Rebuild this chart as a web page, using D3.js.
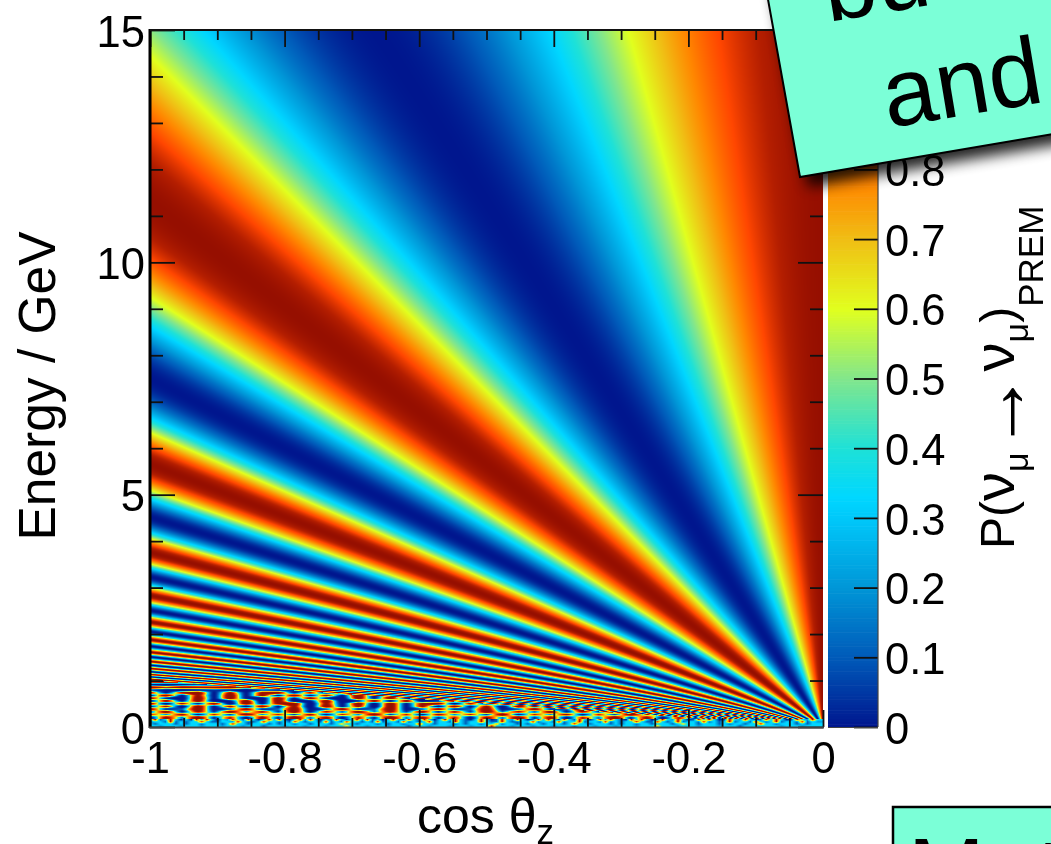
<!DOCTYPE html>
<html><head><meta charset="utf-8">
<script src="https://cdn.jsdelivr.net/npm/d3@7"></script>
<style>
html,body{margin:0;padding:0;background:#fff;overflow:hidden;width:1051px;height:844px}
#wrap{position:relative;width:1051px;height:844px;overflow:hidden}
canvas{position:absolute;left:0;top:0;filter:blur(.6px)}
svg{position:absolute;left:0;top:0}
text{font-family:"Liberation Sans",Arial,sans-serif;fill:#000}
.soft{filter:blur(.45px)}
</style></head><body><div id="wrap"><canvas id="heat" width="1051" height="844"></canvas><svg id="chart" width="1051" height="844"></svg></div>
<script>
// Tick positions
const cosMajor=[-1,-0.8,-0.6,-0.4,-0.2,0];
const cosMinor=[-0.95,-0.9,-0.85,-0.75,-0.7,-0.65,-0.55,-0.5,-0.45,-0.35,-0.3,-0.25,-0.15,-0.1,-0.05];
const energyMajor=[0,5,10,15];
const energyMinor=[1,2,3,4,6,7,8,9,11,12,13,14];
const barTicks=[0,0.1,0.2,0.3,0.4,0.5,0.6,0.7,0.8,0.9,1];
// Colour palette
const paletteStops=[0,0.1,0.2,0.3,0.33,0.4,0.5,0.6,0.7,0.78,0.87,0.95,1];
const paletteColors=["rgb(0,22,142)","rgb(0,90,185)","rgb(0,150,215)","rgb(0,200,250)","rgb(0,215,255)","rgb(30,225,215)","rgb(130,230,140)","rgb(225,255,30)","rgb(240,190,20)","rgb(255,135,0)","rgb(255,70,0)","rgb(180,30,0)","rgb(150,15,0)"];
// Energies along cosθ = -1 at which the probability bands peak/trough (bands fan out from the origin)
const bandEnergy=[Infinity,22.6,11.3,7.5,5.66,4.52,3.76,3.23,2.83,2.51,2.26,2.05,1.88,1.74,1.61,1.51,1.41,1.33,1.26,1.19,1.13,1.08,1.03,0.98,0.94];
const bandValue=[1,0,1,0,1,0,1,0,1,0,1,0,1,0,1,0,1,0,1,0,1,0,1,0,1];
// Unresolved pattern below the fan (tenths of P, estimated by eye), E from 1 down to 0.18
const moireRows=[
"898989988989898998898989988989898998898989",
"101212010212101201021210120102121012010212",
"979889798897988979889798897988979889798897",
"210121021201210212012102120121021201210212",
"818918189181891818918189181891818918189181",
"191819181918191819181918191819181918191819",
"910919109191091910919109191091910919109191",
"091901909019019090190190901901909019019090",
"908190918908190918908190918908190918908190",
"180918091809180918091809180918091809180918",
"913912913912913912913912913912913912913912",
"291829382918293829182938291829382918293829",
"738172937281739271837291738172937281739271",
"183927182938172938271839281739281728392718"];
// Fine speckle, E from 0.18 down to 0
const speckleRows=[
"3913930309293032941930293910392930319303929130393093193039293103930193293019393093193039293109393019329301939301932930193930193293",
"1331913133931133193113933131931331913193313191331913139133193133931193113391331913391331913133931193139133191313913319313913319132",
"3133313133133313933133313133133133313633133313133133933133313133133713313133133313933133313133133133313633133313133133933133313133",
"3323332333233323332333133323332333233363332333233313332333233323339333233323332333133323332333233363332333233323331333233323332333"];

const x=d3.scaleLinear().domain([-1,0]).range([150,823]);
const y=d3.scaleLinear().domain([0,15]).range([727,30]);
const barY=d3.scaleLinear().domain([0,1]).range([727,30]);
const color=d3.scaleLinear().domain(paletteStops).range(paletteColors).clamp(true);
const profile=d3.scaleLinear().domain(bandEnergy.map(e=>1/e)).range(bandValue).clamp(true)
  .interpolate((a,b)=>t=>a+(b-a)*d3.easeSinInOut(t));

function sample(rows,u,v){
  const fr=Math.min(rows.length-1.001,Math.max(0,v*rows.length-.5)),r0=Math.floor(fr),tr=fr-r0;
  const at=(row,uu)=>{const s=rows[row],f=Math.min(s.length-1.001,uu*s.length),i=Math.floor(f),t=f-i;
    return d3.interpolateNumber(+s[i]/9,+s[i+1]/9)(t);};
  return d3.interpolateNumber(at(r0,u),at(r0+1,u))(tr);
}
function valueAt(c,E){
  const ac=Math.abs(c);
  if(E<0.18) return sample(speckleRows,c+1,(0.18-E)/0.18);
  if(E>=ac) return profile(ac/E);
  return d3.easeCubicInOut(sample(moireRows,c+1,(1-E)/0.82));
}
const ctx=document.getElementById("heat").getContext("2d");
const img=ctx.createImageData(1051,844);
for(let py=30;py<727;py++)for(let px=150;px<823;px++){
  const rgb=d3.rgb(color(valueAt(x.invert(px+.5),y.invert(py+.5))));
  const k=(py*1051+px)*4;img.data[k]=rgb.r;img.data[k+1]=rgb.g;img.data[k+2]=rgb.b;img.data[k+3]=255;
}
ctx.putImageData(img,0,0);

const svg=d3.select("#chart");
const defs=svg.append("defs");
defs.append("filter").attr("id","shadow").attr("x","-20%").attr("y","-20%").attr("width","140%").attr("height","140%")
  .append("feGaussianBlur").attr("stdDeviation",7);

// colour bar
svg.append("g").selectAll("rect").data(d3.range(0,1,0.004)).join("rect")
  .attr("x",828).attr("width",50).attr("y",d=>barY(d+0.004)).attr("height",d=>barY(d)-barY(d+0.004)+.6)
  .attr("fill",d=>color(d+.002));

const fmt=d=>String(d);
const soft=svg.append("g").attr("class","soft");
function clean(g){g.select(".domain").remove();g.selectAll("line").attr("stroke","#111").attr("stroke-width",1.8);g.selectAll("text").attr("font-size",43.5).attr("fill","#000").attr("font-family",'"Liberation Sans",Arial,sans-serif');return g;}
// x axis
clean(soft.append("g").attr("transform",`translate(0,727)`).call(d3.axisBottom(x).tickValues(cosMajor).tickFormat(fmt).tickSizeInner(-17).tickSizeOuter(0).tickPadding(15)));
clean(soft.append("g").attr("transform",`translate(0,727)`).call(d3.axisBottom(x).tickValues(cosMinor).tickFormat("").tickSizeInner(-9).tickSizeOuter(0)));
clean(soft.append("g").attr("transform",`translate(0,30)`).call(d3.axisTop(x).tickValues(cosMajor).tickFormat("").tickSizeInner(-17).tickSizeOuter(0)));
clean(soft.append("g").attr("transform",`translate(0,30)`).call(d3.axisTop(x).tickValues(cosMinor).tickFormat("").tickSizeInner(-10).tickSizeOuter(0)));
// y axis
clean(soft.append("g").attr("transform",`translate(150,0)`).call(d3.axisLeft(y).tickValues(energyMajor).tickFormat(fmt).tickSizeInner(-25).tickSizeOuter(0).tickPadding(5)))
  .selectAll("text").attr("dy","0.37em");
clean(soft.append("g").attr("transform",`translate(150,0)`).call(d3.axisLeft(y).tickValues(energyMinor).tickFormat("").tickSizeInner(-13).tickSizeOuter(0)));
clean(soft.append("g").attr("transform",`translate(823,0)`).call(d3.axisRight(y).tickValues(energyMajor).tickFormat("").tickSizeInner(-25).tickSizeOuter(0)));
clean(soft.append("g").attr("transform",`translate(823,0)`).call(d3.axisRight(y).tickValues(energyMinor).tickFormat("").tickSizeInner(-13).tickSizeOuter(0)));
// colour-bar axis
clean(soft.append("g").attr("transform",`translate(878,0)`).call(d3.axisRight(barY).tickValues(barTicks).tickFormat(fmt).tickSizeInner(-24).tickSizeOuter(0).tickPadding(7)))
  .selectAll("text").attr("dy","0.37em");
// frame
const frame=soft.append("g").attr("fill","none");
frame.append("line").attr("x1",150).attr("x2",150).attr("y1",29).attr("y2",728).attr("stroke","#000").attr("stroke-width",3);
frame.append("line").attr("x1",150).attr("x2",823).attr("y1",30).attr("y2",30).attr("stroke","#111").attr("stroke-width",2);
frame.append("line").attr("x1",149).attr("x2",824).attr("y1",727.5).attr("y2",727.5).attr("stroke","#444").attr("stroke-width",2);
frame.append("line").attr("x1",878).attr("x2",878).attr("y1",30).attr("y2",727).attr("stroke","#444").attr("stroke-width",1.2);
frame.append("line").attr("x1",828).attr("x2",878).attr("y1",727.5).attr("y2",727.5).attr("stroke","#444").attr("stroke-width",1.2);

// titles
const ct=soft.append("text").attr("x",417).attr("y",833).attr("font-size",50).text("cos θ");
ct.append("tspan").attr("font-size",35).attr("dy",11).text("z");
soft.append("text").attr("transform","translate(55,386) rotate(-90)").attr("text-anchor","middle").attr("font-size",51.5).text("Energy / GeV");
const t=soft.append("text").attr("transform","translate(1014,549) rotate(-90)").attr("font-size",48);
t.append("tspan").text("P(");
t.append("tspan").attr("font-size",58).text("ν");
t.append("tspan").attr("font-size",34).attr("dy",14).text("μ");
t.append("tspan").attr("dy",-2).attr("dx",1).attr("font-size",80).text("→");
t.append("tspan").attr("dy",-12).attr("font-size",58).text("ν");
t.append("tspan").attr("font-size",34).attr("dy",14).text("μ");
t.append("tspan").attr("dy",-14).text(")");
t.append("tspan").attr("font-size",35).attr("dy",29).text("PREM");

// overlay note, top right
const notePts=[[764.5,-20],[800,177],[1071,131],[1071,-60]];
const line=d3.line();
svg.append("path").attr("d",line(notePts)+"Z").attr("fill","#000").attr("opacity",.85).attr("transform","translate(8,10)").attr("filter","url(#shadow)");
svg.append("path").attr("d",line(notePts)+"Z").attr("fill","#7bffd7").attr("stroke","#000").attr("stroke-width",2);
svg.append("text").attr("transform","translate(828,22) rotate(-9.5)").attr("font-size",96).text("bu");
svg.append("text").attr("transform","translate(888,128) rotate(-9.5)").attr("font-size",96).text("and");
// overlay note, bottom right
svg.append("rect").attr("x",893).attr("y",807).attr("width",170).attr("height",80).attr("fill","#7bffd7").attr("stroke","#000").attr("stroke-width",2.5);
svg.append("text").attr("x",908).attr("y",903).attr("font-size",92).text("Matter");
</script></body></html>
